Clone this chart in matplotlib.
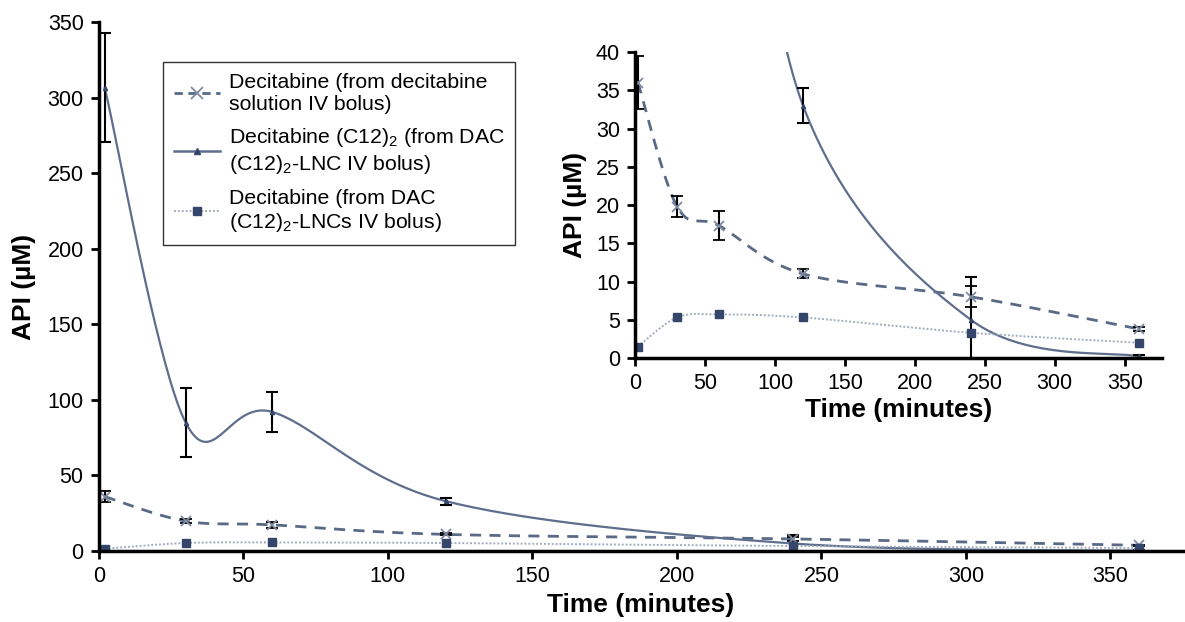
import numpy as np
import matplotlib.pyplot as plt
from matplotlib.lines import Line2D

plt.rcParams['font.family'] = ['Liberation Sans', 'DejaVu Sans']
plt.rcParams['mathtext.fontset'] = 'custom'
plt.rcParams['mathtext.rm'] = 'Liberation Sans'
plt.rcParams['mathtext.it'] = 'Liberation Sans'

# sampling times (minutes)
time = [2, 30, 60, 120, 240, 360]

# decitabine from solution IV bolus
sol_mean = [36.0, 19.8, 17.3, 11.0, 8.0, 3.8]
sol_err = [3.5, 1.4, 1.9, 0.6, 1.35, 0.3]

# DAC (C12)2 from LNC IV bolus
lnc_mean = [306.5, 85.0, 92.0, 33.0, 5.0, 0.2]
lnc_err = [36.0, 22.6, 13.0, 2.3, 5.6, 0.2]

# decitabine from DAC-(C12)2-LNCs IV bolus
rel_mean = [1.5, 5.3, 5.7, 5.3, 3.3, 2.0]
rel_err = [0.3, 0.3, 0.3, 0.3, 0.3, 0.2]

labels = ['Decitabine (from decitabine\nsolution IV bolus)',
          'Decitabine (C12)$_2$ (from DAC\n(C12)$_2$-LNC IV bolus)',
          'Decitabine (from DAC\n(C12)$_2$-LNCs IV bolus)']

c_dash = '#5a6a86'
c_solid = '#5e6e8c'
c_dot = '#a3acbd'
c_mark = '#34466a'

TICK_FS = 15.5
LAB_FS = 19


def smooth(x, y, n=40):
    # excel-like smoothed line: bezier segments with catmull-rom tangents
    p = np.column_stack([x, y]).astype(float)
    ext = np.vstack([p[0], p, p[-1]])
    out = []
    for i in range(len(p) - 1):
        p0, p1 = ext[i + 1], ext[i + 2]
        c1 = p0 + (ext[i + 2] - ext[i]) / 6
        c2 = p1 - (ext[i + 3] - ext[i + 1]) / 6
        t = np.linspace(0, 1, n)[:, None]
        seg = ((1 - t) ** 3) * p0 + 3 * ((1 - t) ** 2) * t * c1 \
            + 3 * (1 - t) * t ** 2 * c2 + t ** 3 * p1
        out.append(seg)
    s = np.vstack(out)
    return s[:, 0], s[:, 1]


def draw(ax):
    xs, ys = smooth(time, sol_mean)
    ax.plot(xs, ys, color=c_dash, lw=2, dashes=(4, 3))
    xs, ys = smooth(time, lnc_mean)
    ax.plot(xs, ys, color=c_solid, lw=1.6)
    xs, ys = smooth(time, rel_mean)
    ax.plot(xs, ys, color=c_dot, lw=1.4, ls=(0, (1, 1)))
    ax.errorbar(time, sol_mean, yerr=sol_err, fmt='x', color='#7f8aa3', ms=7,
                mew=1.3, ecolor='black', elinewidth=1.5, capsize=4, capthick=1.5)
    ax.errorbar(time, lnc_mean, yerr=lnc_err, fmt='^', color=c_mark, ms=3,
                ecolor='black', elinewidth=1.5, capsize=4, capthick=1.5)
    ax.errorbar(time, rel_mean, yerr=rel_err, fmt='s', color=c_mark, ms=6,
                ecolor='black', elinewidth=1.2, capsize=2, capthick=1.2)


def style(ax):
    for s in ['top', 'right']:
        ax.spines[s].set_visible(False)
    for s in ['left', 'bottom']:
        ax.spines[s].set_linewidth(2.5)
    ax.tick_params(direction='out', width=2, length=6, labelsize=TICK_FS, pad=5)


fig = plt.figure(figsize=(11.85, 6.22), dpi=100)
ax = fig.add_axes([0.0835, 0.1141, 0.9145, 0.8505])
draw(ax)
ax.set_xlim(0, 375)
ax.set_ylim(0, 350)
ax.set_xticks(range(0, 351, 50))
ax.set_yticks(range(0, 351, 50))
style(ax)
ax.set_xlabel('Time (minutes)', fontsize=LAB_FS, fontweight='bold', labelpad=4)
ax.set_ylabel('API (µM)', fontsize=LAB_FS, fontweight='bold', labelpad=8)

handles = [Line2D([], [], color=c_dash, lw=2, dashes=(3, 2), marker='x', ms=8,
                  mec='#7f8aa3', mew=1.3),
           Line2D([], [], color=c_solid, lw=1.8, marker='^', ms=4, mfc=c_mark, mec=c_mark),
           Line2D([], [], color=c_dot, lw=1.4, ls=(0, (1, 1)), marker='s', ms=6,
                  mfc=c_mark, mec=c_mark)]
leg = fig.legend(handles, labels, loc='upper left', bbox_to_anchor=(0.1376, 0.9003),
                 bbox_transform=fig.transFigure, borderaxespad=0, fontsize=15.3,
                 frameon=True, fancybox=False, edgecolor='black', handlelength=2.2,
                 labelspacing=0.6, handletextpad=0.4, borderpad=0.5)
leg.get_frame().set_linewidth(1.0)

# inset
axi = fig.add_axes([0.536, 0.4244, 0.445, 0.492])
draw(axi)
axi.set_xlim(0, 377)
axi.set_ylim(0, 40)
axi.set_xticks(range(0, 351, 50))
axi.set_yticks(range(0, 41, 5))
style(axi)
axi.set_xlabel('Time (minutes)', fontsize=LAB_FS, fontweight='bold', labelpad=3)
axi.set_ylabel('API (µM)', fontsize=LAB_FS, fontweight='bold', labelpad=6)

fig.savefig('out.png', dpi=100)
